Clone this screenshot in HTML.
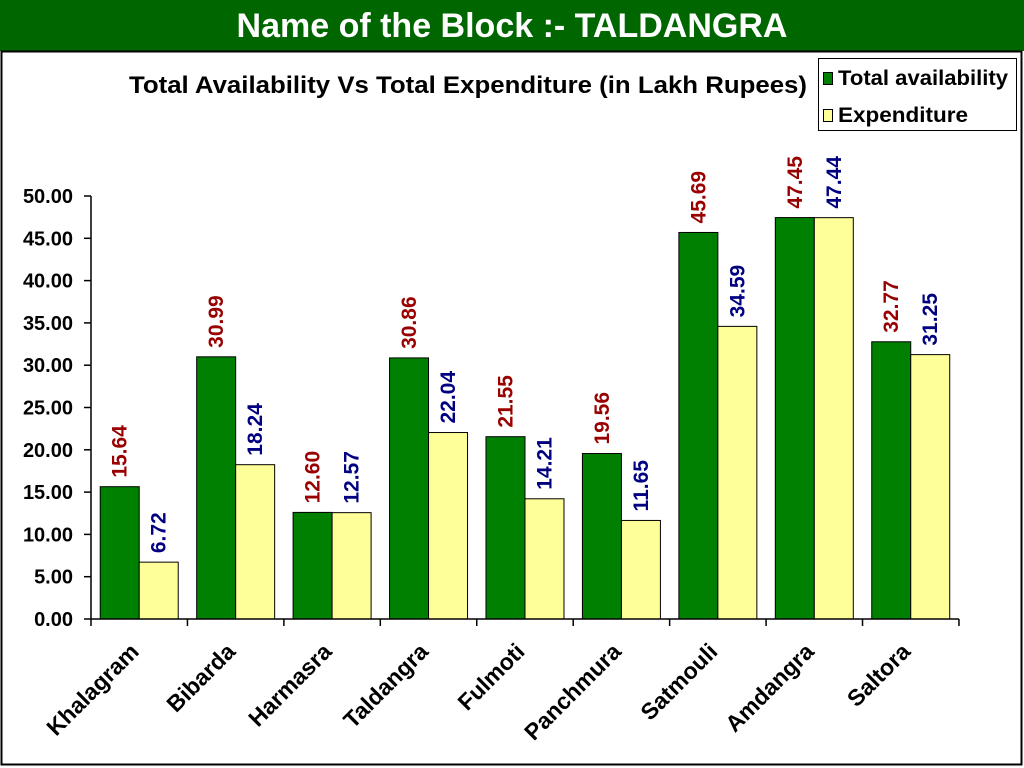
<!DOCTYPE html>
<html><head><meta charset="utf-8"><style>
html,body{margin:0;padding:0;width:1024px;height:768px;overflow:hidden;background:#fff;}
svg{display:block;font-family:"Liberation Sans",Arial,sans-serif;font-weight:bold;}
</style></head><body>
<svg width="1024" height="768" viewBox="0 0 1024 768" xmlns="http://www.w3.org/2000/svg">
<rect x="0" y="0" width="1024" height="51" fill="#006600"/>
<text x="512" y="37" text-anchor="middle" font-size="34" fill="#fff">Name of the Block :- TALDANGRA</text>
<rect x="1.5" y="51.5" width="1020" height="713" fill="#fff" stroke="#000" stroke-width="2"/>
<text x="468" y="93" text-anchor="middle" font-size="24" fill="#000" textLength="678" lengthAdjust="spacingAndGlyphs">Total Availability Vs Total Expenditure (in Lakh Rupees)</text>
<rect x="818.5" y="58.5" width="198" height="72" fill="#fff" stroke="#000" stroke-width="1"/>
<rect x="823.5" y="72.5" width="9" height="12" fill="#008000" stroke="#000"/>
<text x="838" y="85" font-size="21" textLength="170" lengthAdjust="spacingAndGlyphs">Total availability</text>
<rect x="823.5" y="109.5" width="9" height="12" fill="#ffff99" stroke="#000"/>
<text x="838" y="122" font-size="21" textLength="130" lengthAdjust="spacingAndGlyphs">Expenditure</text>
<g id="chart"></g>
</svg>
<script>
(function(){
var g=document.getElementById('chart'),h='';
var y0=619,k=8.46,x0=91,w=96.44;
for(var i=0;i<=10;i++){var v=i*5,y=y0-v*k;
h+='<line x1="84" y1="'+y+'" x2="'+x0+'" y2="'+y+'" stroke="#000" stroke-width="1.5"/>';
h+='<text x="73" y="'+(y+7)+'" text-anchor="end" font-size="20">'+v.toFixed(2)+'</text>';}
var cats=["Khalagram","Bibarda","Harmasra","Taldangra","Fulmoti","Panchmura","Satmouli","Amdangra","Saltora"];
var a=[15.64,30.99,12.60,30.86,21.55,19.56,45.69,47.45,32.77];
var e=[6.72,18.24,12.57,22.04,14.21,11.65,34.59,47.44,31.25];
for(var i=0;i<9;i++){var c=x0+w*(i+0.5);
var ya=y0-a[i]*k,ye=y0-e[i]*k;
h+='<rect x="'+(c-39)+'" y="'+ya+'" width="39" height="'+(y0-ya)+'" fill="#008000" stroke="#000" stroke-width="1"/>';
h+='<rect x="'+c+'" y="'+ye+'" width="39" height="'+(y0-ye)+'" fill="#ffff99" stroke="#000" stroke-width="1"/>';
var lx=c-19.5+7,ly=ya-9;
h+='<text transform="translate('+lx+','+ly+') rotate(-90)" font-size="21" fill="#990000">'+a[i].toFixed(2)+'</text>';
lx=c+19.5+7;ly=ye-9;
h+='<text transform="translate('+lx+','+ly+') rotate(-90)" font-size="21" fill="#000080">'+e[i].toFixed(2)+'</text>';
h+='<text transform="translate('+(c+1)+',653) rotate(-45)" text-anchor="end" font-size="23">'+cats[i]+'</text>';}
for(var i=0;i<=9;i++){var x=x0+w*i;h+='<line x1="'+x+'" y1="'+y0+'" x2="'+x+'" y2="626" stroke="#000" stroke-width="1.5"/>';}
h+='<line x1="'+x0+'" y1="196" x2="'+x0+'" y2="'+y0+'" stroke="#000" stroke-width="1.5"/>';
h+='<line x1="'+x0+'" y1="'+y0+'" x2="'+(x0+w*9)+'" y2="'+y0+'" stroke="#000" stroke-width="1.5"/>';
g.innerHTML=h;})();
</script>
</body></html>
